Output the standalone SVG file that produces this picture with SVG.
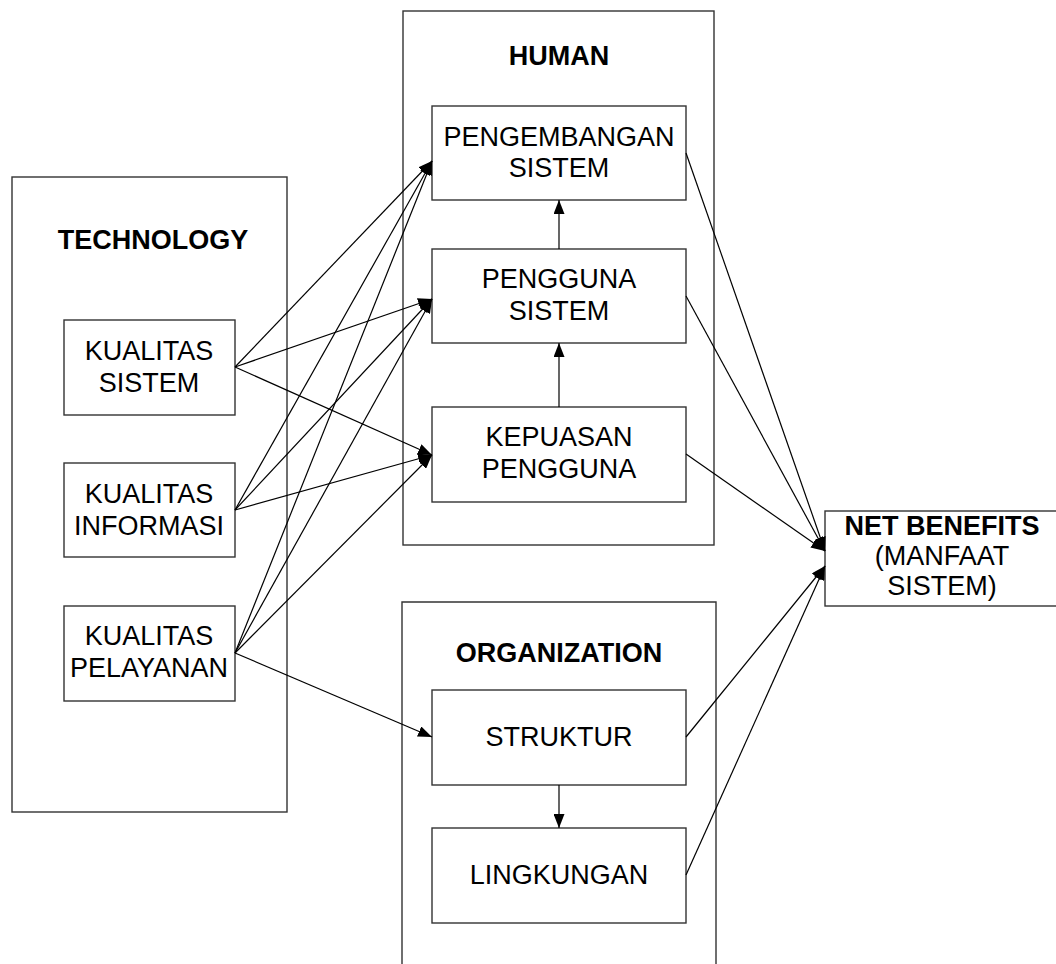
<svg xmlns="http://www.w3.org/2000/svg" width="1056" height="964" viewBox="0 0 1056 964">
<style>
.box{fill:#fff;stroke:#333;stroke-width:1.4}
.frame{fill:none;stroke:#333;stroke-width:1.4}
.t{font-family:"Liberation Sans",Arial,sans-serif;font-size:27px;fill:#000;text-anchor:middle}
.b{font-weight:bold}
.c{stroke:#000;stroke-width:1.2;fill:none;marker-end:url(#ah)}
</style>
<defs>
<marker id="ah" markerUnits="userSpaceOnUse" markerWidth="15" markerHeight="11" refX="14" refY="5.5" orient="auto">
<path d="M0,0 L14,5.5 L0,11 z" fill="#000"/>
</marker>
</defs>
<rect width="1056" height="964" fill="#fff"/>

<g id="technology">
<rect class="frame" x="12" y="177" width="275" height="635"/>
<text class="t b" x="153" y="249">TECHNOLOGY</text>
</g>
<g id="human">
<rect class="frame" x="403" y="11" width="311" height="534"/>
<text class="t b" x="559" y="65">HUMAN</text>
</g>
<g id="organization">
<path class="frame" d="M402,970 V602 H716 V970"/>
<text class="t b" x="559" y="662">ORGANIZATION</text>
</g>

<g id="kualitas-sistem">
<rect class="box" x="64" y="320" width="171" height="95"/>
<text class="t" x="149" y="360">KUALITAS</text>
<text class="t" x="149" y="392">SISTEM</text>
</g>
<g id="kualitas-informasi">
<rect class="box" x="64" y="463" width="171" height="94"/>
<text class="t" x="149" y="503">KUALITAS</text>
<text class="t" x="149" y="535">INFORMASI</text>
</g>
<g id="kualitas-pelayanan">
<rect class="box" x="64" y="606" width="171" height="95"/>
<text class="t" x="149" y="645">KUALITAS</text>
<text class="t" x="149" y="677">PELAYANAN</text>
</g>

<g id="pengembangan-sistem">
<rect class="box" x="432" y="106" width="254" height="94"/>
<text class="t" x="559" y="146">PENGEMBANGAN</text>
<text class="t" x="559" y="177">SISTEM</text>
</g>
<g id="pengguna-sistem">
<rect class="box" x="432" y="249" width="254" height="94"/>
<text class="t" x="559" y="288">PENGGUNA</text>
<text class="t" x="559" y="320">SISTEM</text>
</g>
<g id="kepuasan-pengguna">
<rect class="box" x="432" y="407" width="254" height="95"/>
<text class="t" x="559" y="446">KEPUASAN</text>
<text class="t" x="559" y="478">PENGGUNA</text>
</g>

<g id="struktur">
<rect class="box" x="432" y="690" width="254" height="95"/>
<text class="t" x="559" y="746">STRUKTUR</text>
</g>
<g id="lingkungan">
<rect class="box" x="432" y="828" width="254" height="95"/>
<text class="t" x="559" y="884">LINGKUNGAN</text>
</g>

<g id="net-benefits">
<rect class="box" x="825" y="511" width="240" height="95"/>
<text class="t b" x="942" y="535">NET BENEFITS</text>
<text class="t" x="942" y="565">(MANFAAT</text>
<text class="t" x="942" y="595">SISTEM)</text>
</g>

<g id="connectors">
<line class="c" x1="235" y1="367" x2="432" y2="161"/>
<line class="c" x1="235" y1="510" x2="432" y2="161"/>
<line class="c" x1="235" y1="653" x2="432" y2="161"/>
<line class="c" x1="235" y1="367" x2="432" y2="299"/>
<line class="c" x1="235" y1="510" x2="432" y2="299"/>
<line class="c" x1="235" y1="653" x2="432" y2="299"/>
<line class="c" x1="235" y1="367" x2="432" y2="455"/>
<line class="c" x1="235" y1="510" x2="432" y2="455"/>
<line class="c" x1="235" y1="653" x2="432" y2="455"/>
<line class="c" x1="235" y1="653" x2="432" y2="737"/>
<line class="c" x1="559" y1="249" x2="559" y2="200"/>
<line class="c" x1="559" y1="407" x2="559" y2="343"/>
<line class="c" x1="559" y1="785" x2="559" y2="828"/>
<line class="c" x1="686" y1="153" x2="825" y2="551"/>
<line class="c" x1="686" y1="296" x2="825" y2="551"/>
<line class="c" x1="686" y1="454" x2="825" y2="551"/>
<line class="c" x1="686" y1="737" x2="825" y2="566"/>
<line class="c" x1="686" y1="875" x2="825" y2="566"/>
</g>
</svg>
